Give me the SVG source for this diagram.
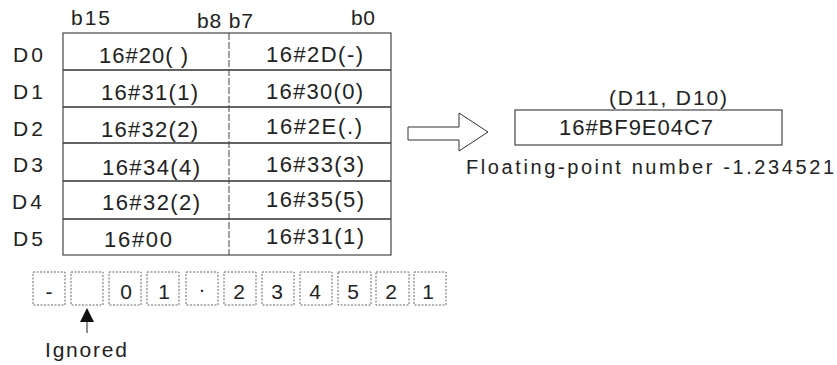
<svg xmlns="http://www.w3.org/2000/svg" width="837" height="365" viewBox="0 0 837 365">
<style>
text{font-family:"Liberation Sans",Arial,sans-serif;fill:#222;}
.c{font-size:22px;}
.l{font-size:21px;}
.f{font-size:20px;}
.d{font-size:21px;text-anchor:middle;}
.db{fill:none;stroke:#666;stroke-width:1;stroke-dasharray:2,1.5;}
.tl{stroke:#333;stroke-width:1.3;fill:none;}
</style>
<rect width="837" height="365" fill="#fff"/>
<g id="bits">
<text class="l" x="71" y="25" textLength="39" lengthAdjust="spacing">b15</text>
<text class="l" x="197" y="28" textLength="56" lengthAdjust="spacing">b8 b7</text>
<text class="l" x="351" y="25" textLength="24" lengthAdjust="spacing">b0</text>
</g>
<g id="rowlabels">
<text class="l" x="13" y="62" textLength="30" lengthAdjust="spacing">D0</text>
<text class="l" x="13" y="99" textLength="30" lengthAdjust="spacing">D1</text>
<text class="l" x="13" y="136" textLength="30" lengthAdjust="spacing">D2</text>
<text class="l" x="13" y="172" textLength="30" lengthAdjust="spacing">D3</text>
<text class="l" x="12" y="209" textLength="30" lengthAdjust="spacing">D4</text>
<text class="l" x="13" y="246" textLength="30" lengthAdjust="spacing">D5</text>
</g>
<g id="table">
<rect x="63" y="33" width="328" height="222" fill="none" stroke="#555" stroke-width="1.3"/>
<path class="tl" d="M63 70H391M63 107H391M63 143H391M63 181H391M63 219H391"/>
<line x1="229" y1="33" x2="229" y2="255" stroke="#444" stroke-width="1" stroke-dasharray="7,2"/>
<text class="c" x="99" y="63" textLength="89" lengthAdjust="spacing">16#20( )</text>
<text class="c" x="266" y="62" textLength="97" lengthAdjust="spacing">16#2D(-)</text>
<text class="c" x="101" y="100" textLength="97" lengthAdjust="spacing">16#31(1)</text>
<text class="c" x="266" y="99" textLength="97" lengthAdjust="spacing">16#30(0)</text>
<text class="c" x="101" y="137" textLength="97" lengthAdjust="spacing">16#32(2)</text>
<text class="c" x="266" y="134" textLength="96" lengthAdjust="spacing">16#2E(.)</text>
<text class="c" x="102" y="175" textLength="98" lengthAdjust="spacing">16#34(4)</text>
<text class="c" x="266" y="172" textLength="98" lengthAdjust="spacing">16#33(3)</text>
<text class="c" x="102" y="210" textLength="98" lengthAdjust="spacing">16#32(2)</text>
<text class="c" x="266" y="207" textLength="98" lengthAdjust="spacing">16#35(5)</text>
<text class="c" x="104" y="247" textLength="68" lengthAdjust="spacing">16#00</text>
<text class="c" x="266" y="244" textLength="98" lengthAdjust="spacing">16#31(1)</text>
</g>
<g id="chars">
<rect class="db" x="33" y="272" width="32" height="33"/>
<rect class="db" x="71" y="272" width="32" height="33"/>
<rect class="db" x="109" y="272" width="32" height="33"/>
<rect class="db" x="147" y="272" width="32" height="33"/>
<rect class="db" x="186" y="272" width="32" height="33"/>
<rect class="db" x="224" y="272" width="32" height="33"/>
<rect class="db" x="262" y="272" width="32" height="33"/>
<rect class="db" x="300" y="272" width="32" height="33"/>
<rect class="db" x="338" y="272" width="33" height="33"/>
<rect class="db" x="376" y="272" width="33" height="33"/>
<rect class="db" x="414" y="272" width="32" height="33"/>
<text class="d" x="49" y="299">-</text>
<text class="d" x="126" y="299">0</text>
<text class="d" x="164" y="299">1</text>
<text class="d" x="202" y="296">·</text>
<text class="d" x="239" y="299">2</text>
<text class="d" x="277" y="299">3</text>
<text class="d" x="315" y="299">4</text>
<text class="d" x="353" y="299">5</text>
<text class="d" x="391" y="299">2</text>
<text class="d" x="428" y="299">1</text>
</g>
<g id="ignored">
<line x1="87" y1="320" x2="87" y2="333" stroke="#222" stroke-width="1"/>
<polygon points="87,308 80,322 94,322" fill="#111"/>
<text class="l" x="45" y="357" textLength="82" lengthAdjust="spacing">Ignored</text>
</g>
<g id="connectors">
<polygon points="408,127 459,127 459,113 488,132 459,151 459,140 408,140" fill="#fff" stroke="#333" stroke-width="1"/>
</g>
<g id="result">
<text class="l" x="609" y="105" textLength="118" lengthAdjust="spacing">(D11, D10)</text>
<rect x="515" y="110" width="267" height="35" fill="none" stroke="#444" stroke-width="1.2"/>
<text class="c" x="559" y="135" textLength="154" lengthAdjust="spacing">16#BF9E04C7</text>
<text class="f" x="466" y="174" textLength="368" lengthAdjust="spacing">Floating-point number -1.234521</text>
</g>
</svg>
